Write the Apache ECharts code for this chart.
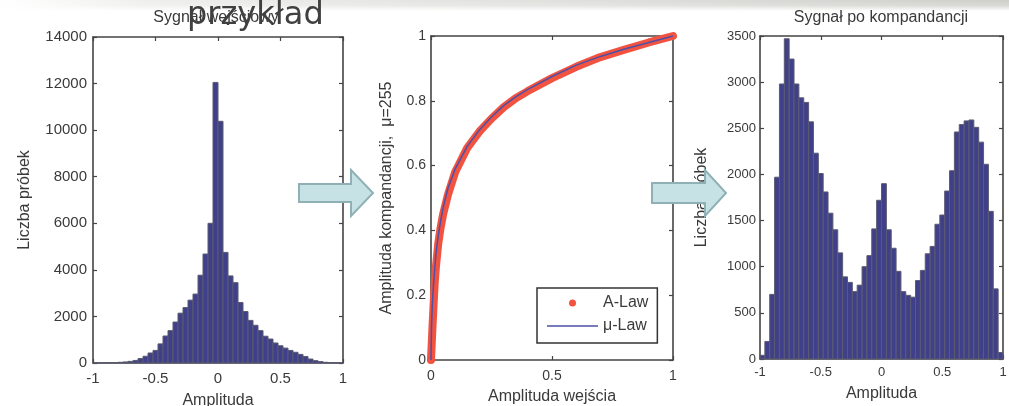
<!DOCTYPE html>
<html>
<head>
<meta charset="utf-8">
<script src="https://cdn.jsdelivr.net/npm/echarts@6/dist/echarts.min.js"></script>
<style>
html,body{margin:0;padding:0;background:#fff;}
#c{width:1009px;height:406px;}
</style>
</head>
<body>
<div id="c"></div>
<script>
// ---- data ----
const histRange = [-1, 1];
const nBins = 50;
// left histogram: input signal counts per bin (-1..1, 50 bins)
const inputCounts = [8, 10, 12, 15, 20, 30, 45, 70, 110, 190,
  290, 430, 540, 820, 1160, 1390, 1760, 2140, 2380, 2700,
  2960, 3770, 4680, 6000, 12050, 10380, 4750, 3740, 3450, 2600,
  2210, 1830, 1620, 1390, 1150, 1030, 860, 740, 640, 540,
  460, 370, 280, 170, 100, 60, 30, 20, 10, 8];
// right histogram: companded signal counts per bin
const compandedCounts = [40, 190, 700, 1970, 2980, 3470, 3250, 2980, 2830, 2780,
  2570, 2230, 2010, 1810, 1580, 1400, 1150, 890, 830, 730,
  800, 1000, 1120, 1410, 1720, 1900, 1400, 1200, 950, 730,
  690, 670, 850, 960, 1140, 1220, 1460, 1560, 1820, 2040,
  2460, 2540, 2580, 2590, 2510, 2350, 2110, 1600, 760, 70];
// middle: compander characteristics
const aLawX = [0, 0.003, 0.006, 0.01, 0.015, 0.02, 0.03, 0.04, 0.05, 0.07, 0.1, 0.15, 0.2, 0.25, 0.3, 0.35, 0.4, 0.5, 0.6, 0.7, 0.8, 0.9, 1];
const aLawY = [0, 0.05, 0.1, 0.16, 0.235, 0.285, 0.36, 0.41, 0.45, 0.51, 0.58, 0.655, 0.705, 0.745, 0.78, 0.808, 0.83, 0.87, 0.905, 0.935, 0.958, 0.98, 1];
const muX = [0, 0.002, 0.005, 0.01, 0.02, 0.03, 0.04, 0.05, 0.07, 0.1, 0.15, 0.2, 0.25, 0.3, 0.35, 0.4, 0.5, 0.6, 0.7, 0.8, 0.9, 1];
const muY = [0, 0.1, 0.165, 0.23, 0.325, 0.385, 0.43, 0.47, 0.53, 0.59, 0.66, 0.71, 0.75, 0.785, 0.812, 0.835, 0.875, 0.91, 0.937, 0.96, 0.98, 1];
const leftYTicks = {min: 0, max: 14000, interval: 2000};
const midTicks = {min: 0, max: 1};
const rightYTicks = {min: 0, max: 3500, interval: 500};

// ---- chart ----
const FONT = 'Liberation Sans, Arial, sans-serif';
const TXT = '#3a3a3a';
const LINE = '#444';
const plain = v => String(v);
const edges = [];
for (let i = 0; i <= nBins; i++) edges.push(histRange[0] + (histRange[1] - histRange[0]) * i / nBins);

function histSeries(xi, yi, counts) {
  return {
    type: 'custom', xAxisIndex: xi, yAxisIndex: yi,
    data: counts.map((c, i) => [edges[i], edges[i + 1], c]),
    encode: {x: [0, 1], y: 2},
    renderItem: function (params, api) {
      const p0 = api.coord([api.value(0), api.value(2)]);
      const p1 = api.coord([api.value(1), 0]);
      return {
        type: 'rect',
        shape: {x: p0[0], y: p0[1], width: p1[0] - p0[0], height: p1[1] - p0[1]},
        style: {fill: '#3f3f8a', stroke: '#5b5b70', lineWidth: 1}
      };
    }
  };
}

function mkX(grid, opts, main, fs, margin) {
  return Object.assign({
    type: 'value', gridIndex: grid, position: main ? 'bottom' : 'top',
    axisLine: {show: true, onZero: false, lineStyle: {color: LINE, width: 1.6}},
    axisTick: {show: true, inside: true, length: 4, lineStyle: {color: LINE, width: 1.2}},
    axisLabel: {show: main, color: TXT, fontFamily: FONT, fontSize: fs || 15, margin: margin || 8, formatter: plain},
    splitLine: {show: false}
  }, opts);
}
function mkY(grid, opts, main, fs, margin) {
  return Object.assign({
    type: 'value', gridIndex: grid, position: main ? 'left' : 'right',
    axisLine: {show: true, onZero: false, lineStyle: {color: LINE, width: 1.6}},
    axisTick: {show: true, inside: true, length: 4, lineStyle: {color: LINE, width: 1.2}},
    axisLabel: {show: main, color: TXT, fontFamily: FONT, fontSize: fs || 15, margin: margin || 6, formatter: plain},
    splitLine: {show: false}
  }, opts);
}
const nameStyle = {color: TXT, fontFamily: FONT, fontSize: 16};

const option = {
  animation: false,
  backgroundColor: '#fff',
  textStyle: {fontFamily: FONT},
  title: [
    {text: 'Sygnał wejściowy', left: 216, top: 10, textAlign: 'center', padding: 0,
     textStyle: {fontSize: 16, fontWeight: 'normal', color: TXT, fontFamily: FONT}},
    {text: 'Sygnał po kompandancji', left: 881, top: 10, textAlign: 'center', padding: 0,
     textStyle: {fontSize: 16, fontWeight: 'normal', color: TXT, fontFamily: FONT}}
  ],
  grid: [
    {left: 93, top: 37, width: 250, height: 326, outerBoundsMode: 'none', containLabel: false},
    {left: 431, top: 36, width: 242, height: 324, outerBoundsMode: 'none', containLabel: false},
    {left: 760, top: 36, width: 243, height: 323, outerBoundsMode: 'none', containLabel: false}
  ],
  xAxis: [
    mkX(0, {min: histRange[0], max: histRange[1], interval: 0.5, name: 'Amplituda', nameLocation: 'middle', nameGap: 30, nameTextStyle: nameStyle}, true, 15, 8),
    mkX(0, {min: histRange[0], max: histRange[1], interval: 0.5}, false),
    mkX(1, {min: midTicks.min, max: midTicks.max, interval: 0.5, name: 'Amplituda wejścia', nameLocation: 'middle', nameGap: 29, nameTextStyle: nameStyle}, true, 14, 9),
    mkX(1, {min: midTicks.min, max: midTicks.max, interval: 0.5}, false),
    mkX(2, {min: histRange[0], max: histRange[1], interval: 0.5, name: 'Amplituda', nameLocation: 'middle', nameGap: 27, nameTextStyle: nameStyle}, true, 13, 7),
    mkX(2, {min: histRange[0], max: histRange[1], interval: 0.5}, false)
  ],
  yAxis: [
    mkY(0, Object.assign({name: 'Liczba próbek', nameLocation: 'middle', nameGap: 60, nameTextStyle: nameStyle}, leftYTicks), true, 15, 6),
    mkY(0, Object.assign({}, leftYTicks), false),
    mkY(1, {min: midTicks.min, max: midTicks.max, interval: 0.2, name: 'Amplituda kompandancji,  μ=255', nameLocation: 'middle', nameGap: 36, nameTextStyle: nameStyle}, true, 14, 5),
    mkY(1, {min: midTicks.min, max: midTicks.max, interval: 0.2}, false),
    mkY(2, Object.assign({name: 'Liczba próbek', nameLocation: 'middle', nameGap: 50, nameTextStyle: nameStyle}, rightYTicks), true, 13, 4),
    mkY(2, Object.assign({}, rightYTicks), false)
  ],
  legend: {
    left: 537, top: 288, orient: 'vertical',
    itemWidth: 51, itemHeight: 7, itemGap: 7,
    padding: [7, 9, 9, 10],
    borderColor: '#333', borderWidth: 1.5, backgroundColor: '#fff',
    textStyle: {fontSize: 16, lineHeight: 16, color: TXT, fontFamily: FONT},
    itemStyle: {borderWidth: 0},
    data: [
      {name: 'A-Law', icon: 'circle'},
      {name: 'μ-Law', icon: 'path://M0,0L60,0L60,2L0,2Z'}
    ]
  },
  series: [
    histSeries(0, 0, inputCounts),
    {
      type: 'line', name: 'A-Law', xAxisIndex: 2, yAxisIndex: 2,
      data: aLawX.map((x, i) => [x, aLawY[i]]),
      symbol: 'none', showSymbol: false, clip: false, z: 2,
      itemStyle: {color: '#f25340'},
      lineStyle: {color: '#f25340', width: 8, cap: 'round', join: 'round'}
    },
    {
      type: 'line', name: 'μ-Law', xAxisIndex: 2, yAxisIndex: 2,
      data: muX.map((x, i) => [x, muY[i]]),
      symbol: 'none', showSymbol: false, clip: false, z: 3,
      itemStyle: {color: '#4b50a8'},
      lineStyle: {color: '#4b50a8', width: 1.5}
    },
    histSeries(4, 4, compandedCounts)
  ],
  graphic: [
    {type: 'rect', z: 0, silent: true, shape: {x: 0, y: 0, width: 1009, height: 11},
     style: {fill: new echarts.graphic.LinearGradient(0, 0, 1, 0, [
       {offset: 0, color: '#ffffff'}, {offset: 0.15, color: '#eeeeec'}, {offset: 1, color: '#cfcfca'}])}},
    {type: 'rect', z: 1, silent: true, shape: {x: 0, y: 0, width: 1009, height: 11},
     style: {fill: new echarts.graphic.LinearGradient(0, 0, 0, 1, [
       {offset: 0, color: 'rgba(255,255,255,0)'}, {offset: 0.5, color: 'rgba(255,255,255,0.2)'}, {offset: 1, color: 'rgba(255,255,255,1)'}])}},
    {type: 'text', z: 100, silent: true, left: 187, top: 0,
     style: {text: 'przykład', font: '32px DejaVu Sans, sans-serif', fill: '#404040'}},
    {type: 'polygon', z: 100, silent: true,
     shape: {points: [[299, 184], [351, 184], [351, 170], [373, 193], [351, 216], [351, 202], [299, 202]]},
     style: {fill: '#c6e2e5', stroke: '#8fb0b5', lineWidth: 2}},
    {type: 'polygon', z: 100, silent: true,
     shape: {points: [[652, 183], [705, 183], [705, 170], [726, 193], [705, 216], [705, 203], [652, 203]]},
     style: {fill: '#c6e2e5', stroke: '#8fb0b5', lineWidth: 2}}
  ]
};

const chart = echarts.init(document.getElementById('c'), null, {renderer: 'canvas'});
chart.setOption(option);
</script>
</body>
</html>
